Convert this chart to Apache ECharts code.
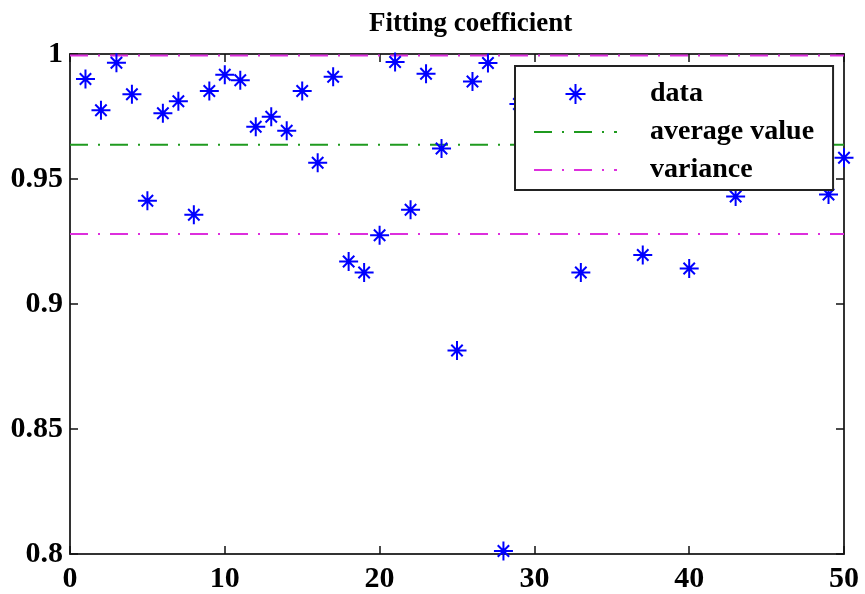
<!DOCTYPE html>
<html>
<head>
<meta charset="utf-8">
<script src="https://cdn.jsdelivr.net/npm/echarts@6/dist/echarts.min.js"></script>
<style>
html,body{margin:0;padding:0;background:#fff;}
#chart{width:865px;height:594px;}
</style>
</head>
<body>
<div id="chart"></div>
<script>
// ---- data ----
var titleText = 'Fitting coefficient';
var xIndex = [1,2,3,4,5,6,7,8,9,10,11,12,13,14,15,16,17,18,19,20,21,22,23,24,25,26,27,28,29,30,31,32,33,34,35,36,37,38,39,40,41,42,43,44,45,46,47,48,49,50];
var fitValues = [0.990,0.9775,0.9965,0.9839,0.9413,0.9763,0.9811,0.9357,0.9852,0.9917,
                 0.9895,0.9709,0.9749,0.9693,0.9852,0.9565,0.9909,0.9170,0.9126,0.9275,
                 0.9968,0.9377,0.9921,0.9622,0.8814,0.9890,0.9964,0.8012,0.9800,0.985,
                 0.975,0.988,0.9126,0.978,0.983,0.972,0.9196,0.986,0.979,0.9142,
                 0.984,0.974,0.9430,0.981,0.987,0.976,0.982,0.973,0.9438,0.9585];
var avgValue = 0.9637;
var varianceUpper = 0.9994;
var varianceLower = 0.9280;
var xRange = [0, 50];
var yRange = [0.8, 1];
var xTicks = [0, 10, 20, 30, 40, 50];
var yTickLabels = ['0.8', '0.85', '0.9', '0.95', '1'];
var legendNames = ['data', 'average value', 'variance'];

// ---- chart ----
var chart = echarts.init(document.getElementById('chart'));
var serif = '"Liberation Serif", "DejaVu Serif", serif';
var starPath = 'path://M10,0L10,20M0,10L20,10M4,4L16,16M4,16L16,4';

function pairs(xs, ys) { return xs.map(function (x, i) { return [x, ys[i]]; }); }
function hline(v) { return [[xRange[0], v], [xRange[1], v]]; }

var axisLine = { show: true, onZero: false, lineStyle: { color: '#333', width: 2 } };
var axisTick = { show: true, inside: true, length: 8, lineStyle: { color: '#111', width: 1.5 } };
var labelStyle = { color: '#000', fontFamily: serif, fontWeight: 'bold', fontSize: 30 };

var option = {
  backgroundColor: '#fff',
  animation: false,
  title: {
    text: titleText,
    left: 364, top: 6,
    textStyle: { color: '#000', fontFamily: serif, fontWeight: 'bold', fontSize: 27 }
  },
  grid: { left: 70, right: 21, top: 54, bottom: 40, containLabel: false },
  legend: {
    data: [
      { name: legendNames[0] },
      { name: legendNames[1], itemStyle: { opacity: 0 } },
      { name: legendNames[2], itemStyle: { opacity: 0 } }
    ],
    orient: 'vertical',
    left: 515, top: 66,
    padding: [14, 19, 6, 18],
    itemWidth: 83, itemHeight: 20, itemGap: 10,
    backgroundColor: '#fff',
    borderColor: '#222', borderWidth: 2, borderRadius: 0,
    textStyle: { color: '#000', fontFamily: serif, fontWeight: 'bold', fontSize: 28, lineHeight: 20, padding: [0, 0, 0, 28] },
    z: 10
  },
  xAxis: [
    { type: 'value', position: 'bottom', min: xRange[0], max: xRange[1], interval: 10,
      axisLine: axisLine, axisTick: axisTick, splitLine: { show: false },
      axisLabel: Object.assign({ margin: 10 }, labelStyle) },
    { type: 'value', position: 'top', min: xRange[0], max: xRange[1], interval: 10,
      axisLine: axisLine, axisTick: axisTick, splitLine: { show: false },
      axisLabel: { show: false } }
  ],
  yAxis: [
    { type: 'value', position: 'left', min: yRange[0], max: yRange[1], interval: 0.05,
      axisLine: axisLine, axisTick: axisTick, splitLine: { show: false },
      axisLabel: Object.assign({ margin: 7, formatter: function (v, i) { return yTickLabels[i]; } }, labelStyle) },
    { type: 'value', position: 'right', min: yRange[0], max: yRange[1], interval: 0.05,
      axisLine: axisLine, axisTick: axisTick, splitLine: { show: false },
      axisLabel: { show: false } }
  ],
  series: [
    { name: legendNames[0], type: 'scatter', data: pairs(xIndex, fitValues),
      symbol: starPath, symbolSize: 19, symbolKeepAspect: true,
      itemStyle: { color: 'rgba(0,0,255,0)', borderColor: '#0000ff', borderWidth: 2, opacity: 1 },
      z: 3 },
    { name: legendNames[1], type: 'line', data: hline(avgValue), symbol: 'none', showSymbol: false,
      lineStyle: { color: '#1f9a1f', width: 2, type: [18, 10, 2, 10] }, itemStyle: { color: '#1f9a1f' }, z: 2 },
    { name: legendNames[2], type: 'line', data: hline(varianceUpper), symbol: 'none', showSymbol: false,
      lineStyle: { color: '#dd2fdd', width: 2, type: [18, 10, 2, 10] }, itemStyle: { color: '#dd2fdd' }, z: 2 },
    { name: legendNames[2], type: 'line', data: hline(varianceLower), symbol: 'none', showSymbol: false,
      lineStyle: { color: '#dd2fdd', width: 2, type: [18, 10, 2, 10] }, itemStyle: { color: '#dd2fdd' }, z: 2 }
  ]
};
chart.setOption(option);
</script>
</body>
</html>
